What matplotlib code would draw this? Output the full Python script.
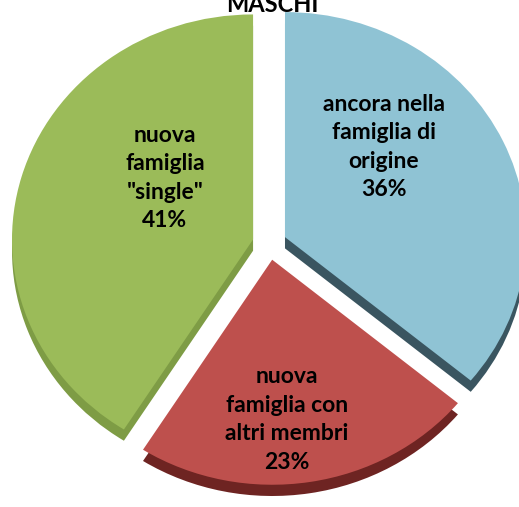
import numpy as np
import matplotlib.pyplot as plt

plt.rcParams['font.family'] = ['Lato', 'DejaVu Sans']

title = 'MASCHI'
labels = ['ancora nella\nfamiglia di\norigine\n36%',
          'nuova\nfamiglia con\naltri membri\n23%',
          'nuova\nfamiglia\n"single"\n41%']
values = [36, 23, 41]
colors = ['#8FC3D4', '#BE504D', '#9BBB59']
side_colors = ['#3A5560', '#6E2422', '#7E9C45']
explode = [0.071, 0.071, 0.071]
# label anchor points (data units, relative to pie centre)
label_xy = [(0.475, 0.43), (0.073, -0.78), (-0.434, 0.293)]

fig = plt.figure(figsize=(5.19, 5.07), dpi=100)
ax = fig.add_axes([0, 0, 1, 1])

depth = 0.05
# side (depth) of the 3D-looking pie
ax.pie(values, explode=explode, colors=side_colors, startangle=90,
       counterclock=False, center=(0, -depth),
       wedgeprops=dict(linewidth=0))
# top face
ax.pie(values, explode=explode, colors=colors, startangle=90,
       counterclock=False, wedgeprops=dict(linewidth=0))

for txt, (x, y) in zip(labels, label_xy):
    ax.text(x, y, txt, ha='center', va='center', fontsize=16.5,
            fontweight='bold', linespacing=1.44, color='black')

ax.set_aspect('auto')
ax.set_xlim(-1.118, 1.035)
ax.set_ylim(-1.169, 1.084)
ax.axis('off')

fig.text(0.524, 0.976, title, ha='center', va='baseline', fontsize=17,
         fontweight='bold')

fig.savefig('out.png', dpi=100)
